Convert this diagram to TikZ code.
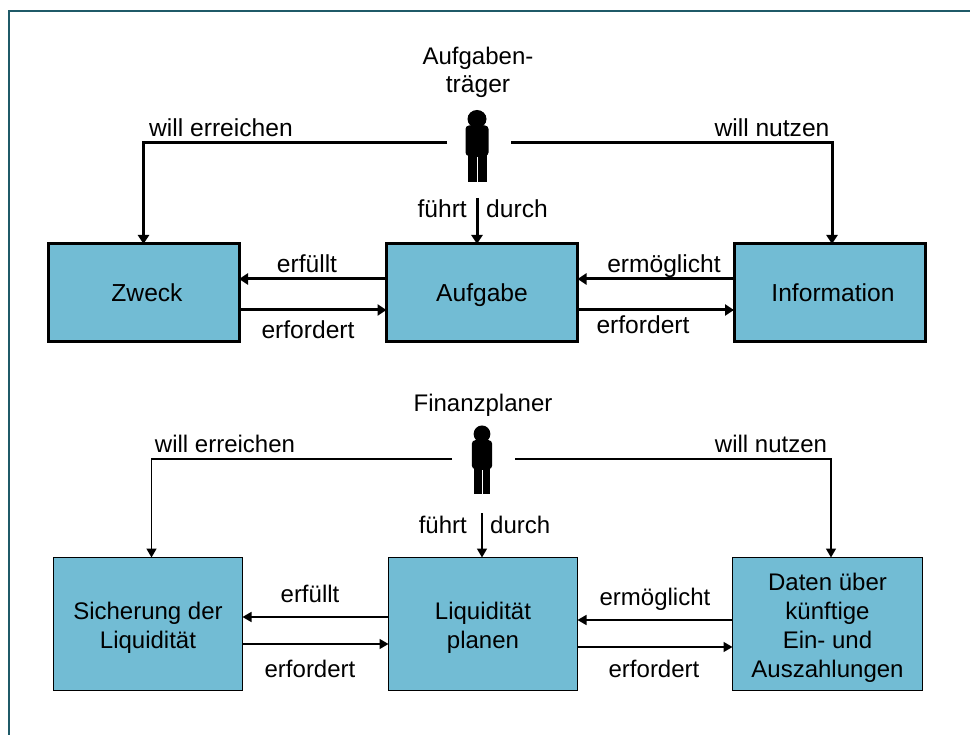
\documentclass[tikz,border=0pt]{standalone}
\usepackage{fontspec}
\setmainfont{Liberation Sans}
\usetikzlibrary{arrows.meta}
\definecolor{boxblue}{HTML}{72BCD4}
\definecolor{frameteal}{HTML}{1F5A68}
\newcommand{\myfont}{\fontsize{24.6}{28.5}\selectfont}
\tikzset{
    mybox/.style = {rectangle, draw=black, fill=boxblue, align=center, outer sep=0pt, inner sep=0pt, text=black, text depth=0pt, font=\myfont},
    mylabel/.style = {anchor=base, inner sep=0pt, align=center, text=black, font=\myfont},
    edgek/.style = {-{Triangle[length=9pt,width=11pt]},line width=3pt,black},
    edged/.style = {-{Triangle[length=9pt,width=10pt]},line width=1.6pt,black},
    person/.pic = {
      \fill[black] (0,0) ellipse (9.5 and 9);
      \fill[black,rounded corners=3.5pt] (-11.5,6.5) rectangle (11.5,37);
      \fill[black] (-9.5,34) rectangle (9.5,63);
      \draw[white,line width=0.5pt] (0,38) -- (0,63);
    }
}
\begin{document}
\begin{tikzpicture}[x=1pt,y=-1pt]
  \useasboundingbox (0,0) rectangle (970,735);
  \draw[frameteal,line width=2.6pt] (9,735) -- (9,11) -- (970,11);

  % upper row
  \node[mybox, line width=3pt, minimum width=191, minimum height=98, text height=18pt] (zweck) at (143.5,293) {\hspace*{7pt}Zweck};
  \node[mybox, line width=3pt, minimum width=191, minimum height=98, text height=18pt] (aufgabe) at (482,293) {Aufgabe};
  \node[mybox, line width=3pt, minimum width=191, minimum height=98, text height=18pt] (info) at (829.5,293) {\hspace*{7pt}Information};
  \pic at (477,119) {person};
  \node[mylabel] (traeger) at (478,93) {\fontsize{24}{28.5}\selectfont Aufgaben-\\träger};
  \coordinate (pla) at (447,143);
  \coordinate (pra) at (511,143);
  \coordinate (pda) at (477,198);
  \draw[edgek] (pla) -| (zweck.north);
  \draw[edgek] (pra) -| ([xshift=2.5pt]info.north);
  \draw[edgek] (pda) -- (pda |- aufgabe.north);
  \draw[edgek] ([yshift=14pt]aufgabe.west) -- ([yshift=14pt]zweck.east);
  \draw[edgek] ([yshift=-17pt]zweck.east) -- ([yshift=-17pt]aufgabe.west);
  \draw[edgek] ([yshift=14pt]info.west) -- ([yshift=14pt]aufgabe.east);
  \draw[edgek] ([yshift=-17pt]aufgabe.east) -- ([yshift=-17pt]info.west);
  \node[mylabel] (la1) at (221,137) {will erreichen};
  \node[mylabel] (la2) at (772,137) {will nutzen};
  \node[mylabel, anchor=base east] (la3) at (467,218) {führt};
  \node[mylabel, anchor=base west] (la4) at (486,218) {durch};
  \node[mylabel] (la5) at (307,273) {erfüllt};
  \node[mylabel] (la6) at (308,339) {erfordert};
  \node[mylabel] (la7) at (664,273) {ermöglicht};
  \node[mylabel] (la8) at (643,334) {erfordert};

  % lower row
  \renewcommand{\myfont}{\fontsize{24}{28.8}\selectfont}
  \node[mybox, line width=1.6pt, minimum width=189, minimum height=133, text height=48pt] (zweckb) at (148,624) {Sicherung der\\Liquidität};
  \node[mybox, line width=1.6pt, minimum width=189, minimum height=133, text height=48pt] (aufgabeb) at (483,624) {Liquidität\\planen};
  \node[mybox, line width=1.6pt, minimum width=190, minimum height=133, text height=106pt] (infob) at (827.5,624) {Daten über\\künftige\\Ein- und\\Auszahlungen};
  \pic[xscale=0.88,yscale=0.95] at (482,434) {person};
  \node[mylabel] (planer) at (483,412) {Finanzplaner};
  \coordinate (plb) at (452,459);
  \coordinate (prb) at (515,459);
  \coordinate (pdb) at (482,513);
  \draw[edged] (plb) -| ([xshift=3.5pt]zweckb.north);
  \draw[edged] (prb) -| ([xshift=3.5pt]infob.north);
  \draw[edged] (pdb) -- (pdb |- aufgabeb.north);
  \draw[edged] ([yshift=7pt]aufgabeb.west) -- ([yshift=7pt]zweckb.east);
  \draw[edged] ([yshift=-20pt]zweckb.east) -- ([yshift=-20pt]aufgabeb.west);
  \draw[edged] ([yshift=4pt]infob.west) -- ([yshift=4pt]aufgabeb.east);
  \draw[edged] ([yshift=-23pt]aufgabeb.east) -- ([yshift=-23pt]infob.west);
  \node[mylabel] (lb1) at (225,453) {will erreichen};
  \node[mylabel] (lb2) at (771,453) {will nutzen};
  \node[mylabel, anchor=base east] (lb3) at (467,533) {führt};
  \node[mylabel, anchor=base west] (lb4) at (490,533) {durch};
  \node[mylabel] (lb5) at (310,602) {erfüllt};
  \node[mylabel] (lb6) at (310,677) {erfordert};
  \node[mylabel] (lb7) at (655,605) {ermöglicht};
  \node[mylabel] (lb8) at (654,677) {erfordert};
\end{tikzpicture}
\end{document}
